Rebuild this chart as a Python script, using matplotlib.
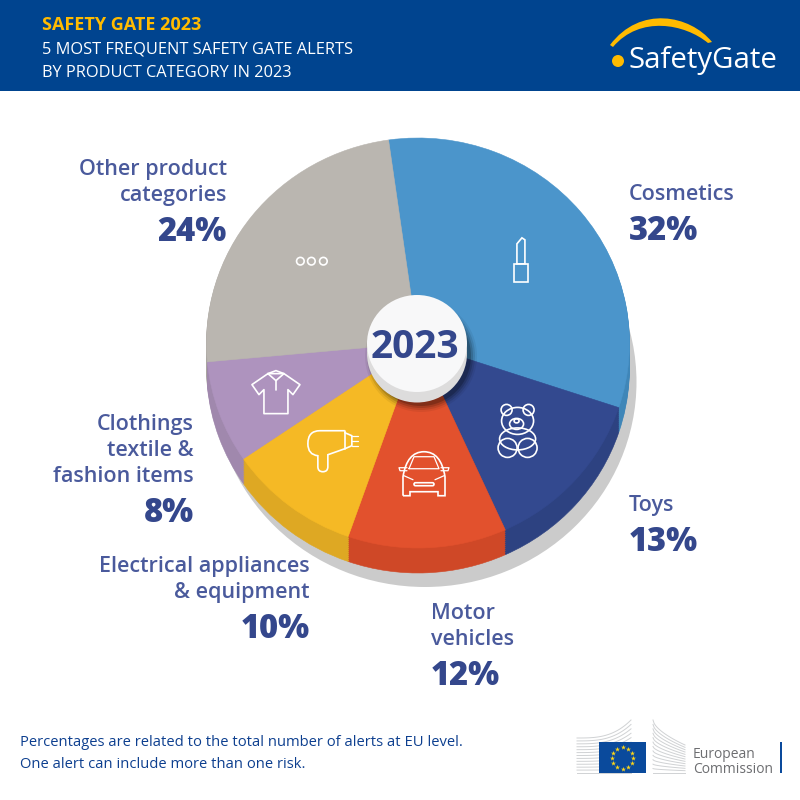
import numpy as np
import matplotlib
matplotlib.use("Agg")
import matplotlib.pyplot as plt
from matplotlib.patches import Circle, Ellipse, FancyBboxPatch, PathPatch, Polygon, Rectangle
from matplotlib.path import Path

# ==========================================
# 1. DATA
# ==========================================
categories = ["Cosmetics", "Toys", "Motor vehicles", "Electrical appliances & equipment",
              "Clothings textile & fashion items", "Other product categories"]
shares = [32, 13, 12, 10, 8, 24]
share_labels = ["32%", "13%", "12%", "10%", "8%", "24%"]
top_colors = ["#4b95cb", "#33498f", "#e2512d", "#f5b925", "#ae93be", "#bab6b0"]
wall_colors = ["#3f86b8", "#2d4281", "#cf4827", "#dea823", "#a088ad", "#a9a5a0"]

title_lines = ["SAFETY GATE 2023", "5 MOST FREQUENT SAFETY GATE ALERTS", "BY PRODUCT CATEGORY IN 2023"]
footer_lines = ["Percentages are related to the total number of alerts at EU level.",
                "One alert can include more than one risk."]

BLUE = "#00448f"
YELLOW = "#ffbb00"
LABEL = "#4a5a9c"
PCT = "#34478c"
WHITE = "white"

FONT = "Open Sans"
NARROW = ["Liberation Sans Narrow", "Open Sans"]

# pie geometry in pixels
CX, CY = 418, 343
RX, RY = 211.5, 205
DEPTH = 25
START = 98

# ==========================================
# 2. PIE (own axes, one data unit = one radius)
# ==========================================
fig = plt.figure(figsize=(8, 8), dpi=100, facecolor="white")
pie_ax = fig.add_axes([0, 0, 1, 1], zorder=1)


def draw_pie(colors, drop=0):
    wedges, _ = pie_ax.pie(shares, radius=1, center=(0, -drop / RY), colors=colors, startangle=START,
                           counterclock=False)
    for wedge, color in zip(wedges, colors):
        wedge.set(edgecolor=color, linewidth=0.4)
    return wedges


pie_ax.add_patch(Ellipse((7 / RX, -39 / RY), 2, 2, color="#cbcbcb", lw=0))
for d in np.arange(DEPTH, 0, -2):
    draw_pie(wall_colors, d)
wedges = draw_pie(top_colors)
pie_ax.set_aspect("auto")
pie_ax.set_xlim((0 - CX) / RX, (800 - CX) / RX)
pie_ax.set_ylim((CY - 800) / RY, CY / RY)
pie_ax.axis("off")

# everything else is placed in pixels on top of the pie
ax = fig.add_axes([0, 0, 1, 1], zorder=2)
ax.set_xlim(0, 800)
ax.set_ylim(800, 0)
ax.axis("off")


def icon_center(wedge, r):
    # pixel position at the middle of a wedge, r pixels out from the hub
    a = np.radians((wedge.theta1 + wedge.theta2) / 2)
    return CX + r * np.cos(a), CY - r * np.sin(a) * RY / RX


def outline(patch):
    patch.set(fill=False, edgecolor=WHITE, linewidth=1.2)
    ax.add_patch(patch)


def stroke(xs, ys, lw=1.2):
    ax.plot(xs, ys, color=WHITE, lw=lw, solid_capstyle="round", solid_joinstyle="round")


# ==========================================
# 3. ICONS
# ==========================================
def lipstick(x, y):
    outline(Rectangle((x - 7, y + 4), 14, 18))
    outline(Polygon([(x - 4, y + 4), (x - 4, y - 16), (x + 1, y - 22), (x + 4, y - 20), (x + 4, y + 4)]))


def teddy(x, y):
    for dx in (-11, 11):
        outline(Circle((x + dx, y - 20), 5.5))
    outline(Ellipse((x, y - 9), 32, 27))
    outline(Ellipse((x - 1, y - 6), 14, 11))
    outline(Ellipse((x - 1, y - 9), 5, 4))
    outline(Ellipse((x, y + 9), 36, 22))
    for dx in (-10, 10):
        outline(Circle((x + dx, y + 18), 9.5))


def car(x, y):
    # body with the roof rounded off
    codes = [Path.MOVETO, Path.LINETO, Path.CURVE3, Path.CURVE3, Path.CURVE3, Path.CURVE3, Path.LINETO, Path.LINETO,
             Path.LINETO, Path.LINETO, Path.LINETO, Path.LINETO]
    verts = [(x - 21, y + 22), (x - 21, y + 3), (x - 17, y - 22), (x, y - 22), (x + 17, y - 22), (x + 21, y + 3),
             (x + 21, y + 22), (x + 14, y + 22), (x + 14, y + 18), (x - 14, y + 18), (x - 14, y + 22), (x - 21, y + 22)]
    outline(PathPatch(Path(verts, codes)))
    stroke([x - 15, x - 10, x + 10, x + 15, x - 15], [y - 5, y - 17, y - 17, y - 5, y - 5], lw=0.9)
    stroke([x - 17, x - 25, x - 24, x - 17], [y - 6, y - 6, y - 3, y - 3], lw=0.9)
    stroke([x + 17, x + 25, x + 24, x + 17], [y - 6, y - 6, y - 3, y - 3], lw=0.9)
    outline(FancyBboxPatch((x - 10, y + 9), 20, 3, boxstyle="round,pad=0,rounding_size=1.5"))
    stroke([x - 20, x - 11], [y + 2, y + 6], lw=0.9)
    stroke([x + 20, x + 11], [y + 2, y + 6], lw=0.9)


def dryer(x, y):
    codes = [Path.MOVETO, Path.LINETO, Path.CURVE3, Path.CURVE3, Path.CURVE3, Path.CURVE3, Path.LINETO, Path.CURVE3,
             Path.CURVE3, Path.CURVE3, Path.CURVE3, Path.LINETO, Path.LINETO]
    verts = [(x + 12, y - 20), (x - 13, y - 20), (x - 25, y - 20), (x - 25, y - 7), (x - 25, y + 4), (x - 15, y + 5),
             (x - 15, y + 16), (x - 15, y + 21), (x - 10, y + 21), (x - 5, y + 21), (x - 5, y + 16), (x - 5, y + 4),
             (x + 12, y - 2)]
    outline(PathPatch(Path(verts, codes)))
    stroke([x + 12, x + 12], [y - 20, y - 2])
    stroke([x + 12, x + 19, x + 19, x + 12], [y - 18, y - 15, y - 5, y - 2])
    for dy in (-15, -10, -5):
        stroke([x + 19, x + 25], [y + dy, y + dy], lw=0.9)


def shirt(x, y):
    xs = [x - 8, x - 24, x - 17, x - 12, x - 12, x + 12, x + 12, x + 17, x + 24, x + 8, x - 8]
    ys = [y - 19, y - 8, y + 2, y - 3, y + 21, y + 21, y - 3, y + 2, y - 8, y - 19, y - 19]
    stroke(xs, ys)
    stroke([x - 8, x, x + 8], [y - 19, y - 12, y - 19])
    stroke([x - 8, x, x + 8], [y - 19, y - 22, y - 19])
    stroke([x, x], [y - 12, y - 3])


def more_dots(x, y):
    for dx in (-11, 0, 12):
        outline(Circle((x + dx, y), 3.8))


icon_draw = [lipstick, teddy, car, dryer, shirt, more_dots]
icon_radius = [134, 134, 135, 140, 151, 136]
for wedge, draw, r in zip(wedges, icon_draw, icon_radius):
    draw(*icon_center(wedge, r))

# ==========================================
# 4. CENTRE HUB
# ==========================================
for grow, alpha in ((6, 0.06), (4, 0.1), (2, 0.14), (0, 0.2)):
    ax.add_patch(Ellipse((421, 356), 100 + grow * 2, 100 + grow * 2, color="black", alpha=alpha, lw=0))
ax.add_patch(Ellipse((417, 353.5), 100, 98, color="#dddcdc", lw=0))
ax.add_patch(Ellipse((417, 343.5), 100, 97, color="#f8f8f9", lw=0))
ax.text(415, 358, "2023", color=PCT, fontsize=28, fontweight="bold", family=FONT, ha="center", va="baseline")

# ==========================================
# 5. LABELS
# ==========================================
label_lines = [["Cosmetics"], ["Toys"], ["Motor", "vehicles"], ["Electrical appliances", "& equipment"],
               ["Clothings", "textile &", "fashion items"], ["Other product", "categories"]]
label_x = [629, 629, 431, 310, 194, 227]
label_y = [200, 511, 619, 572, 430, 175]
label_ha = ["left", "left", "left", "right", "right", "right"]

for lines, share, x, y, ha in zip(label_lines, share_labels, label_x, label_y, label_ha):
    for i, line in enumerate(lines):
        ax.text(x, y + i * 26, line, color=LABEL, fontsize=15.5, family=FONT, fontweight="semibold",
                ha=ha, va="baseline")
    ax.text(x, y + (len(lines) - 1) * 26 + 40, share, color=PCT, fontsize=23.5, family=FONT, fontweight="heavy",
            ha=ha, va="baseline")

# ==========================================
# 6. HEADER BAND AND LOGO
# ==========================================
ax.add_patch(Rectangle((0, 0), 800, 91, color=BLUE, lw=0))
ax.text(42, 30, title_lines[0], color=YELLOW, fontsize=13, fontweight="bold", family=NARROW, va="baseline")
ax.text(42, 54, title_lines[1], color=WHITE, fontsize=11.8, family=NARROW, va="baseline")
ax.text(42, 77, title_lines[2], color=WHITE, fontsize=11.8, family=NARROW, va="baseline")

arc = Path([(610, 45), (640, 5), (690, 15), (712, 42), (708, 43), (685, 24), (640, 15), (613, 47), (610, 45)],
           [Path.MOVETO, Path.CURVE4, Path.CURVE4, Path.CURVE4, Path.LINETO, Path.CURVE4, Path.CURVE4, Path.CURVE4,
            Path.CLOSEPOLY])
ax.add_patch(PathPatch(arc, color=YELLOW, lw=0))
ax.add_patch(Circle((618, 61), 6, color=YELLOW, lw=0))
ax.text(629, 68, "SafetyGate", color=WHITE, fontsize=21.2, family="Open Sans", va="baseline")

# ==========================================
# 7. FOOTER AND COMMISSION LOGO
# ==========================================
ax.text(20, 746, footer_lines[0], color="#0d3f8f", fontsize=10.6, fontweight="medium", family=FONT, va="baseline")
ax.text(20, 768, footer_lines[1], color="#0d3f8f", fontsize=10.6, fontweight="medium", family=FONT, va="baseline")

t = np.linspace(0, 1, 30)
for f in np.linspace(0, 1, 13):
    ax.plot(577 + 54 * t, 738 + 35 * f - 18 * (1 - f) * t ** 3, color="#d0d2d4", lw=0.7)
    ax.plot(653 + 32 * t, 720 + 53 * f + (25 * (1 - f)) * t ** 0.6, color="#d0d2d4", lw=0.7)
ax.add_patch(Rectangle((599, 742), 47, 31, color="#0a4a9c", lw=0, zorder=3))
a = np.radians(np.arange(0, 360, 30))
ax.scatter(622.7 + 10.7 * np.cos(a), 758 + 10.7 * np.sin(a), marker="*", s=14, color="#ffd617", lw=0, zorder=4)
ax.text(693, 758, "European", color="#6d6e71", fontsize=10, family=FONT, va="baseline")
ax.text(693, 773, "Commission", color="#6d6e71", fontsize=10, family=FONT, va="baseline")
ax.add_patch(Rectangle((780, 742), 2, 31, color="#0a4a9c", lw=0))

fig.savefig("out.png", dpi=100)
